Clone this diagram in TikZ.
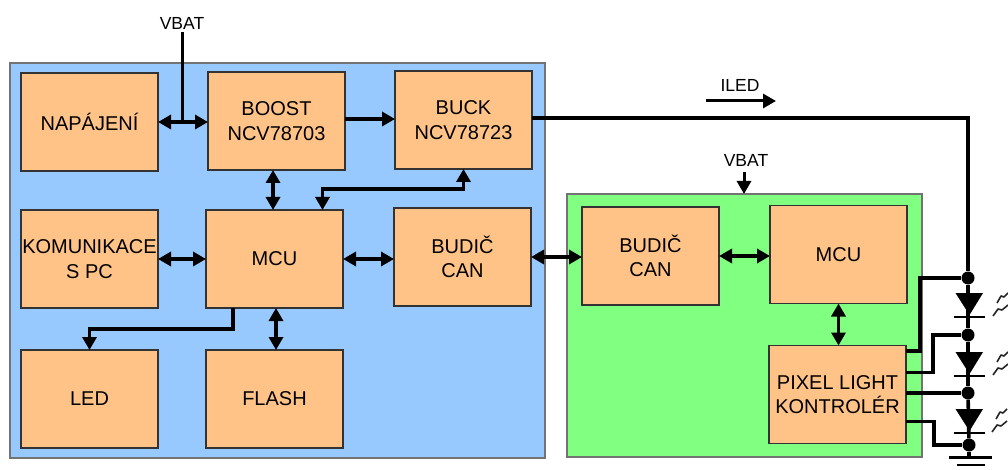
\documentclass[tikz,border=0pt]{standalone}
\usepackage{fontspec}
\setmainfont{Liberation Sans}
\usetikzlibrary{arrows.meta, positioning}
\definecolor{panelB}{HTML}{97C9FF}
\definecolor{panelG}{HTML}{80FF80}
\definecolor{boxO}{HTML}{FFC388}
\tikzset{
  box/.style={rectangle, draw=black!80, fill=boxO, line width=1.2pt,
              minimum width=137pt, minimum height=98pt, outer sep=0pt, inner sep=0pt,
              align=center, font=\fontsize{20}{24.5}\selectfont},
  panel/.style={rectangle, draw=black!55, line width=1.2pt, outer sep=0pt},
  label/.style={font=\fontsize{17.5}{20}\selectfont, inner sep=0pt},
  both/.style={{Triangle[length=13pt,width=14pt]}-{Triangle[length=13pt,width=14pt]}, line width=3.6pt},
  arrow/.style={-{Triangle[length=13pt,width=14pt]}, line width=3.6pt},
  wire/.style={line width=3.6pt},
  junction/.style={circle, fill=black, inner sep=0pt, minimum size=13pt},
  diodebar/.style={line width=1.6pt},
  rays/.style={line width=1.6pt, black!85, line join=round},
}
\begin{document}
\begin{tikzpicture}[x=1pt, y=-1pt]

  \useasboundingbox (0,0) rectangle (1008,470);

  \node[panel, fill=panelB, minimum width=535pt, minimum height=395pt] (bluepanel) at (277.5,260.5) {};
  \node[panel, fill=panelG, minimum width=355pt, minimum height=263pt] (greenpanel) at (744.5,325.5) {};

  \node[box] (napajeni) at (89.5,122) {\raisebox{-2pt}{NAPÁJENÍ}};
  \node[box, right=50pt of napajeni, yshift=1pt] (boost) {BOOST\\NCV78703};
  \node[box, right=50pt of boost, yshift=1pt]    (buck)  {BUCK\\NCV78723};
  \node[box, below=39pt of napajeni]             (komunikace) {KOMUNIKACE\\S PC};
  \node[box, right=48pt of komunikace]           (mcu)   {MCU};
  \node[box, right=51pt of mcu, yshift=2pt]      (budic) {BUDIČ\\CAN};
  \node[box, below=42pt of komunikace]           (led)   {LED};
  \node[box, right=48pt of led]                  (flash) {FLASH};

  \node[box] (budicB) at (650.5,256) {BUDIČ\\CAN};
  \node[box, right=51pt of budicB, yshift=1.5pt] (mcuB)  {MCU};
  \node[box, below=42pt of mcuB, xshift=-1pt]    (pixel) {PIXEL LIGHT\\KONTROLÉR};

  \node[label] (vbatA) at (182,23) {VBAT};
  \node[label] (vbatB) at (746,160) {VBAT};
  \node[label] (iled) at (740,85) {ILED};

  % uzly na vetvi LED
  \node[junction] (n1) at (968,278) {};
  \node[junction] (n2) at (968,335) {};
  \node[junction] (n3) at (968,393) {};
  \node[junction] (n4) at (969,445) {};
  \coordinate (gnd) at (969,457);
  \coordinate (iledA) at (706,101);
  \coordinate (iledB) at (776,101);
  \coordinate (vbatT) at (744,172);
  \coordinate (vbatC) at (744,194);

  \draw[both] (napajeni) -- (boost.west |- napajeni);
  \draw[wire, line width=3pt] (vbatA.south) ++(0,3) -- (vbatA.south |- napajeni);
  \draw[arrow] ([yshift=2pt]boost.east) -- ([yshift=2pt]boost.east -| buck.west);
  \draw[both] (mcu.north -| 273,0) -- (boost.south -| 273,0);
  \draw[both] (buck.south) -- ++(0,20) -| ([xshift=48pt]mcu.north);
  \draw[both] (komunikace) -- (mcu);
  \draw[both] (mcu) -- (mcu.east -| budic.west);
  \draw[both] (budic.east) -- (budic.east -| budicB.west);
  \draw[both] (budicB) -- (budicB -| mcuB.west);
  \draw[both] (mcuB.south) -- (mcuB.south |- pixel.north);
  \draw[both] ([xshift=1.5pt]flash.north) -- ([xshift=1.5pt]flash.north |- mcu.south);
  \draw[arrow] ([xshift=-41.5pt]mcu.south) -- ++(0,21) -| (led.north);
  \draw[arrow, line width=3pt] (iledA) -- (iledB);
  \draw[arrow, line width=3pt] (vbatT) -- (vbatC);

  \draw[wire] ([yshift=2pt]buck.east) -| (n1);
  \draw[wire] (n1) -- (n2);
  \draw[wire] (n2) -- (n3);
  \draw[wire] (n3) -- (n4);
  \draw[wire] (n4) -- (gnd);
  \draw[wire] ([yshift=43.5pt]pixel.east) -- ++(14,0) |- (n1);
  \draw[wire] ([yshift=22pt]pixel.east) -- ++(27,0) |- (n2);
  \draw[wire] (n3 -| pixel.east) -- (n3);
  \draw[wire] ([yshift=-27pt]pixel.east) -- ++(28,0) |- (n4);

  % diody
  \foreach \y in {293,352,409}{
    \fill (955.5,\y) -- (983,\y) -- (969.5,\y+22) -- cycle;
    \draw[diodebar] (954,\y+24) -- (985,\y+24);
  }

  % zem
  \draw[line width=2.4pt] (949,457.5) -- (992,457.5);
  \draw[line width=2.6pt] (957,465) -- (985,465);

  % paprsky
  \foreach \dx/\dy in {0/0, 0/59, -1/116}{
    \draw[rays] (997+\dx,303+\dy) -- (1001+\dx,296+\dy) -- (1004+\dx,297+\dy) -- (1008+\dx,293+\dy);
    \draw[rays] (993+\dx,316+\dy) -- (998+\dx,309+\dy) -- (1002+\dx,310+\dy) -- (1008+\dx,305+\dy);
  }

\end{tikzpicture}
\end{document}
